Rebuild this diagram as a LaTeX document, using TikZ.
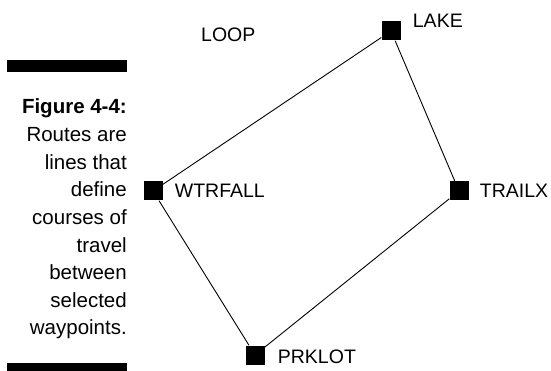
\documentclass[tikz,border=0pt]{standalone}
\usepackage{fontspec}
\setmainfont{Liberation Sans}
\usetikzlibrary{positioning}

\begin{document}
\begin{tikzpicture}[
    x=1pt, y=-1pt,
    node distance=12pt,
    waypoint/.style={
        rectangle,
        fill=black,
        minimum size=19pt,
        inner sep=0pt
    },
    wplabel/.style={font=\fontsize{19.5}{23}\selectfont, inner sep=0pt, anchor=west},
    caption/.style={font=\fontsize{20.5}{25}\selectfont, inner sep=0pt, anchor=base east},
    route/.style={draw=black, line width=0.9pt},
    rulebar/.style={fill=black}
]
    \useasboundingbox (0,0) rectangle (551,371);

    % --- CAPTION ---
    \fill[rulebar] (7,60) rectangle (127,72);
    \node[caption] (cap0) at (127,114) {\textbf{Figure 4-4:}};
    \foreach \txt [count=\i] in {Routes are, lines that, define, courses of,
                                 travel, between, selected, waypoints.}
        \node[caption] (cap\i) at (127,114+27.6*\i) {\txt};
    \fill[rulebar] (7,363) rectangle (127,371);

    % --- WAYPOINTS ---
    \node[waypoint] (lake) at (391,31) {};
    \node[waypoint] (wtrfall) at (153,191) {};
    \node[waypoint] (trailx) at (459,191) {};
    \node[waypoint] (prklot) at (255,355) {};

    % --- LABELS ---
    \node[wplabel, right=12pt of lake, yshift=10pt] (lakelbl) {LAKE};
    \node[wplabel, right=12pt of wtrfall] (wtrfalllbl) {WTRFALL};
    \node[wplabel, right=11pt of trailx] (trailxlbl) {TRAILX};
    \node[wplabel, right=13pt of prklot, yshift=-2pt] (prklotlbl) {PRKLOT};
    \node[wplabel, anchor=base west] (looplbl) at (201,42) {LOOP};

    % --- ROUTE ---
    \draw[route] (lake) -- (wtrfall) -- (prklot) -- (trailx) -- (lake);

\end{tikzpicture}
\end{document}
